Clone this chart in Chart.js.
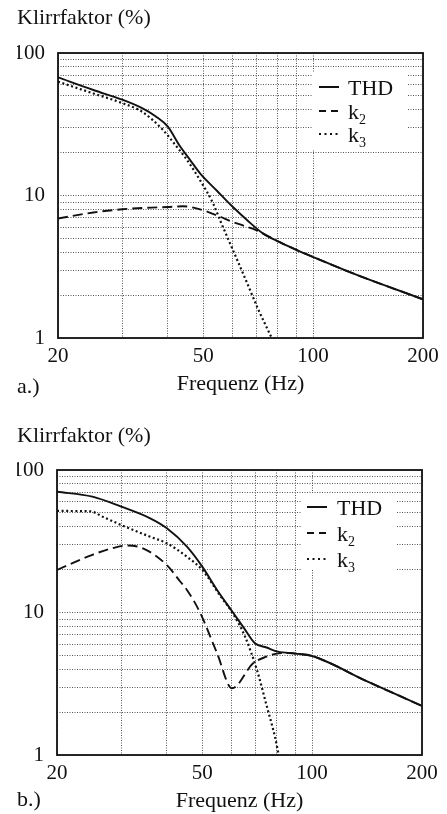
<!DOCTYPE html>
<html>
<head>
<meta charset="utf-8">
<script src="https://cdn.jsdelivr.net/npm/chart.js@4.4.1/dist/chart.umd.min.js"></script>
<style>
  html, body { margin: 0; padding: 0; background: #fff; }
  canvas { display: block; }
</style>
</head>
<body>
<canvas id="chartA" width="447" height="409"></canvas>
<canvas id="chartB" width="447" height="405"></canvas>
<script>
// axis ticks
const freqTicks = [20, 30, 40, 50, 60, 70, 80, 90, 100, 200];
const freqLabels = [20, 50, 100, 200];
const klirrTicks = [1, 2, 3, 4, 5, 6, 7, 8, 9, 10, 20, 30, 40, 50, 60, 70, 80, 90, 100];
const klirrLabels = [1, 10, 100];
const seriesNames = ['THD', 'k2', 'k3'];

// a.) values as [Hz, %]
const thdA = [[20, 67.5], [25, 55], [30, 47], [34, 41], [37, 36], [40, 30.4], [43, 22.5], [46, 17.8], [49, 14.3], [54.5, 10.8], [60, 8.4], [66, 6.7], [73, 5.4], [81, 4.7], [90, 4.15], [100, 3.7], [126, 2.9], [160, 2.3], [200, 1.87]];
const k2A = [[20, 6.9], [25, 7.6], [30, 8.0], [35, 8.2], [40, 8.3], [44, 8.4], [49, 8.0], [55.6, 7.1], [60, 6.55], [65, 6.1], [70, 5.7], [73, 5.4], [81, 4.7], [90, 4.15], [100, 3.7], [126, 2.9], [160, 2.3], [200, 1.87]];
const k3A = [[20, 62.9], [25, 52], [30, 44.5], [34, 38.7], [38.8, 28.8], [42, 22.5], [45.1, 17.8], [49, 12.8], [53.2, 8.8], [55.6, 6.7], [60.3, 4.14], [66, 2.42], [70.2, 1.66], [77, 1.0]];

// b.) values as [Hz, %]
const thdB = [[20, 70.4], [25, 65], [30, 55.3], [36, 45.8], [40, 39], [45.4, 29], [50, 21], [54.9, 14.4], [60.7, 10], [65, 7.8], [69.7, 6.08], [75, 5.68], [80.6, 5.31], [90, 5.15], [100, 4.95], [141, 3.3], [200, 2.21]];
const k2B = [[20, 19.9], [24.9, 25.3], [28, 28], [31.1, 29.5], [34.4, 28.2], [40, 21.5], [43.5, 16.5], [45.4, 14.4], [49.3, 10], [54.9, 5.17], [60.3, 2.94], [68.9, 4.4], [75, 4.9], [81, 5.17], [87, 5.2], [90, 5.15], [100, 4.95], [141, 3.3], [200, 2.21]];
const k3B = [[20, 51.6], [24.6, 51.3], [27, 46.3], [30, 41.1], [36, 34], [40, 30.6], [45.4, 24.6], [50, 19.9], [55.9, 13.2], [60.7, 9.8], [65.5, 6.77], [70.6, 3.95], [75.2, 2.18], [79.1, 1.34], [81, 1.0]];

const serif = "'Liberation Serif', 'Times New Roman', serif";
const dashes = [[], [10, 5], [2, 2.6]];
const legendDashes = [[], [7, 5], [2, 3.5]];

// frame, legend, y label and panel letter
const panelDecor = {
  id: 'panelDecor',
  afterDraw(chart, args, o) {
    const { ctx, chartArea: a } = chart;
    ctx.save();
    ctx.setLineDash([]);
    ctx.strokeStyle = '#111';
    ctx.lineWidth = 1.8;
    ctx.strokeRect(a.left, a.top, a.right - a.left, a.bottom - a.top);

    ctx.fillStyle = '#fff';
    ctx.fillRect(a.left + o.box[0], a.top + o.box[1], o.box[2], o.box[3]);

    ctx.fillStyle = '#111';
    ctx.textBaseline = 'alphabetic';
    ctx.textAlign = 'left';
    chart.data.datasets.forEach((ds, i) => {
      const base = a.top + o.rows[i];
      const x0 = a.left + o.sampleX;
      ctx.strokeStyle = '#111';
      ctx.lineWidth = 2;
      ctx.setLineDash(legendDashes[i]);
      ctx.beginPath();
      ctx.moveTo(x0, base - 8);
      ctx.lineTo(x0 + 20, base - 8);
      ctx.stroke();
      const tx = a.left + o.textX;
      const m = /^k(\d)$/.exec(ds.label);
      ctx.font = '22px ' + serif;
      if (m) {
        ctx.fillText('k', tx, base);
        const w = ctx.measureText('k').width;
        ctx.font = '14px ' + serif;
        ctx.fillText(m[1], tx + w, base + 5);
      } else {
        ctx.fillText(ds.label, tx, base);
      }
    });

    ctx.font = '22px ' + serif;
    ctx.fillText('Klirrfaktor (%)', 17, o.yLabelBase);
    ctx.fillText(o.panel, 17, a.bottom + o.panelOffset);
    ctx.restore();
  }
};

function toXY(pts) {
  return pts.map(([x, y]) => ({ x, y }));
}

function makeChart(id, series, o) {
  return new Chart(document.getElementById(id), {
    type: 'line',
    data: {
      datasets: series.map((pts, i) => ({
        label: seriesNames[i],
        data: toXY(pts),
        borderColor: '#111',
        borderWidth: i === 2 ? 2.2 : 1.9,
        borderDash: dashes[i],
        pointRadius: 0,
        cubicInterpolationMode: 'monotone',
        fill: false
      }))
    },
    options: {
      responsive: false,
      animation: false,
      layout: { padding: { top: o.top, left: 17, right: o.right, bottom: o.bottom } },
      plugins: {
        legend: { display: false },
        tooltip: { enabled: false },
        panelDecor: o.decor
      },
      scales: {
        x: {
          type: 'logarithmic',
          min: 20,
          max: 200,
          afterBuildTicks: s => { s.ticks = freqTicks.map(v => ({ value: v })); },
          afterFit: s => { s.height = 60; },
          ticks: {
            autoSkip: false,
            maxRotation: 0,
            padding: 6,
            color: '#111',
            font: { family: serif, size: 21 },
            callback: v => freqLabels.includes(v) ? String(v) : ''
          },
          grid: { color: '#555', lineWidth: 1, drawTicks: false },
          border: { display: false, dash: [1, 1.5] },
          title: {
            display: true,
            text: 'Frequenz (Hz)',
            color: '#111',
            font: { family: serif, size: 22 },
            padding: { top: 0, bottom: 1 }
          }
        },
        y: {
          type: 'logarithmic',
          min: 1,
          max: 100,
          afterBuildTicks: s => { s.ticks = klirrTicks.map(v => ({ value: v })); },
          afterFit: s => { s.width = o.yWidth; },
          ticks: {
            autoSkip: false,
            padding: 13,
            color: '#111',
            font: { family: serif, size: 21 },
            callback: v => klirrLabels.includes(v) ? String(v) : ''
          },
          grid: { color: '#555', lineWidth: 1, drawTicks: false },
          border: { display: false, dash: [1, 1.5] }
        }
      }
    },
    plugins: [panelDecor]
  });
}

makeChart('chartA', [thdA, k2A, k3A], {
  top: 53, right: 24, bottom: 11, yWidth: 41,
  decor: { box: [255, 19, 95, 78], rows: [42, 66, 89], sampleX: 261, textX: 290, yLabelBase: 24, panel: 'a.)', panelOffset: 55 }
});

makeChart('chartB', [thdB, k2B, k3B], {
  top: 61, right: 25, bottom: -1, yWidth: 40,
  decor: { box: [245, 23, 95, 77], rows: [45, 71, 97], sampleX: 250, textX: 280, yLabelBase: 33, panel: 'b.)', panelOffset: 51 }
});
</script>
</body>
</html>
